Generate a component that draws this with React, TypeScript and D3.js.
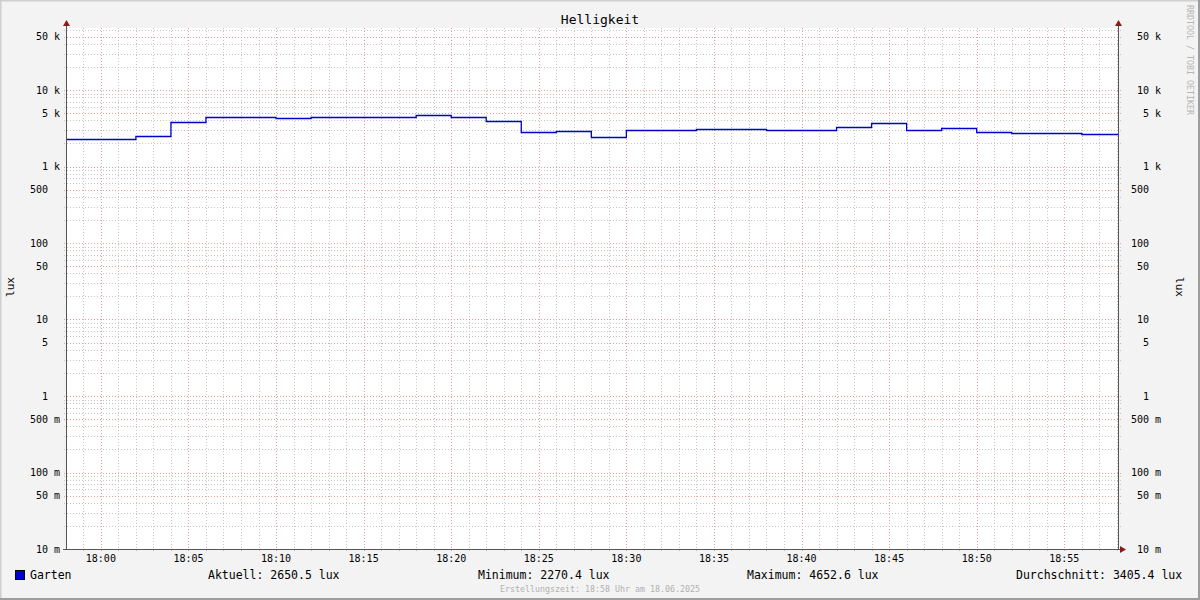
import React from 'react'
import * as d3 from 'd3'

// Helligkeit, 2-min Messwerte (lux), Beginn 17:58
const stepStarts = [
  '17:58', '18:00', '18:02', '18:04', '18:06', '18:08', '18:10', '18:12', '18:14', '18:16',
  '18:18', '18:20', '18:22', '18:24', '18:26', '18:28', '18:30', '18:32', '18:34', '18:36',
  '18:38', '18:40', '18:42', '18:44', '18:46', '18:48', '18:50', '18:52', '18:54', '18:56',
]
const luxValues = [
  2300, 2270, 2480, 3780, 4400, 4400, 4270, 4400, 4400, 4400,
  4650, 4400, 3900, 2800, 2880, 2410, 2970, 3030, 3120, 3060,
  2970, 2970, 3250, 3670, 2970, 3160, 2800, 2720, 2720, 2650,
]
const endTime = '18:58'
const xTickLabels = ['18:00', '18:05', '18:10', '18:15', '18:20', '18:25', '18:30', '18:35', '18:40', '18:45', '18:50', '18:55']
const yMajor = [0.01, 0.05, 0.1, 0.5, 1, 5, 10, 50, 100, 500, 1000, 5000, 10000, 50000]
const yLabels = ['10 m', '50 m', '100 m', '500 m', '1', '5', '10', '50', '100', '500', '1 k', '5 k', '10 k', '50 k']
const legendItems = ['Aktuell: 2650.5 lux', 'Minimum: 2270.4 lux', 'Maximum: 4652.6 lux', 'Durchschnitt: 3405.4 lux']

const W = 1200
const H = 600
const left = 67
const right = 1118
const top = 28
const bottom = 549
const font = '"DejaVu Sans Mono", monospace'

const t = (hm: string, s = 0) => {
  const [h, m] = hm.split(':').map(Number)
  return new Date(Date.UTC(2025, 5, 18, h, m, s))
}

const App = () => {
  const x = d3.scaleUtc().domain([t('17:58', 4), t(endTime, 4)]).range([left, right])
  const y = d3.scaleLog().domain([0.01, Math.pow(10, -2 + (bottom - top) / 76.5)]).range([bottom, top])

  const data = stepStarts.map((s, i) => ({ time: t(s), value: luxValues[i] }))
  data.push({ time: t(endTime, 4), value: luxValues[luxValues.length - 1] })

  const line = d3
    .line<{ time: Date; value: number }>()
    .x((d) => Math.max(left, x(d.time)))
    .y((d) => Math.round(y(d.value)) + 0.5)
    .curve(d3.curveStepAfter)

  // minor horizontal grid: 2..9 x 10^n
  const minorY: number[] = []
  for (let e = -2; e <= 4; e++) {
    for (let k = 2; k <= 9; k++) {
      if (k === 5) continue
      const v = k * Math.pow(10, e)
      if (y(v) >= top) minorY.push(v)
    }
  }
  const minuteTicks = x.ticks(d3.utcMinute.every(1)!).filter((d) => d.getUTCMinutes() % 5 !== 0)
  const fiveTicks = x.ticks(d3.utcMinute.every(5)!)
  const fmt = d3.utcFormat('%H:%M')

  const minorStyle = { stroke: '#c6c6c6', strokeDasharray: '1,2', strokeWidth: 1 }
  const majorStyle = { stroke: '#e6a0a0', strokeDasharray: '1,2', strokeWidth: 1 }
  const legendX = [208, 478, 747, 1016]

  return (
    <svg width={W} height={H} style={{ position: 'absolute', left: 0, top: 0 }}>
      <rect x={0} y={0} width={W} height={H} fill="#f3f3f3" />
      <path d={`M0.5,${H} V0.5 H${W}`} stroke="#cfcfcf" strokeWidth={2} fill="none" />
      <path d={`M0,${H - 1} H${W - 1} V0`} stroke="#9d9d9d" strokeWidth={2} fill="none" />
      <rect x={left} y={top} width={right - left} height={bottom - top} fill="#ffffff" />

      {minorY.map((v) => (
        <line key={'my' + v} x1={left - 3} x2={right + 3} y1={Math.round(y(v)) + 0.5} y2={Math.round(y(v)) + 0.5} style={minorStyle} />
      ))}
      {minuteTicks.map((d) => (
        <line key={'mx' + d.getTime()} x1={Math.round(x(d)) + 0.5} x2={Math.round(x(d)) + 0.5} y1={top} y2={bottom + 2} style={minorStyle} />
      ))}
      {fiveTicks.map((d) => (
        <line key={'Mx' + d.getTime()} x1={Math.round(x(d)) + 0.5} x2={Math.round(x(d)) + 0.5} y1={top} y2={bottom + 2} style={majorStyle} />
      ))}
      {yMajor.map((v) => (
        <line key={'My' + v} x1={left - 3} x2={right + 3} y1={Math.round(y(v)) + 0.5} y2={Math.round(y(v)) + 0.5} style={majorStyle} />
      ))}

      <path d={line(data) || ''} fill="none" stroke="#0000cc" strokeWidth={1.3} />

      {/* axes */}
      <line x1={left - 0.5} x2={left - 0.5} y1={24} y2={bottom} stroke="#555" />
      <line x1={right + 0.5} x2={right + 0.5} y1={24} y2={bottom} stroke="#555" />
      <line x1={left - 4} x2={right + 3} y1={bottom + 0.5} y2={bottom + 0.5} stroke="#555" />
      <path d={`M${left - 4},26 L${left - 0.5},20 L${left + 3},26 Z`} fill="#8b1a1a" />
      <path d={`M${right - 3},26 L${right + 0.5},20 L${right + 4},26 Z`} fill="#8b1a1a" />
      <path d={`M${right + 2},${bottom - 3} L${right + 8},${bottom + 0.5} L${right + 2},${bottom + 4} Z`} fill="#8b1a1a" />

      {/* y labels */}
      {yMajor.map((v, i) => {
        const pad = /[km]$/.test(yLabels[i]) ? 0 : 12
        return (
          <g key={'yl' + v} fontFamily={font} fontSize={10} fill="#000">
            <text x={60 - pad} y={y(v) + 3.5} textAnchor="end">{yLabels[i]}</text>
            <text x={1161 - pad} y={y(v) + 3.5} textAnchor="end">{yLabels[i]}</text>
          </g>
        )
      })}

      {/* x labels */}
      {fiveTicks.filter((d) => xTickLabels.includes(fmt(d))).map((d) => (
        <text key={'xl' + d.getTime()} x={x(d)} y={562} textAnchor="middle" fontFamily={font} fontSize={10}>
          {fmt(d)}
        </text>
      ))}

      <text x={600} y={24} textAnchor="middle" fontFamily={font} fontSize={13}>Helligkeit</text>
      <text transform="translate(14,287) rotate(-90)" textAnchor="middle" fontFamily={font} fontSize={11}>lux</text>
      <text transform="translate(1176,287) rotate(90)" textAnchor="middle" fontFamily={font} fontSize={11}>lux</text>
      <text transform="translate(1187,5) rotate(90)" fontFamily={font} fontSize={8.3} fill="#b5b5b5">RRDTOOL / TOBI OETIKER</text>

      {/* legend */}
      <rect x={15.5} y={570.5} width={9} height={9} fill="#0000cc" stroke="#000" />
      <text x={30} y={579} fontFamily={font} fontSize={11.5}>Garten</text>
      {legendItems.map((s, i) => (
        <text key={s} x={legendX[i]} y={579} fontFamily={font} fontSize={11.5}>{s}</text>
      ))}
      <text x={600} y={592} textAnchor="middle" fontFamily={font} fontSize={8.3} fill="#b0b0b0">
        Erstellungszeit: 18:58 Uhr am 18.06.2025
      </text>
    </svg>
  )
}

export default App
